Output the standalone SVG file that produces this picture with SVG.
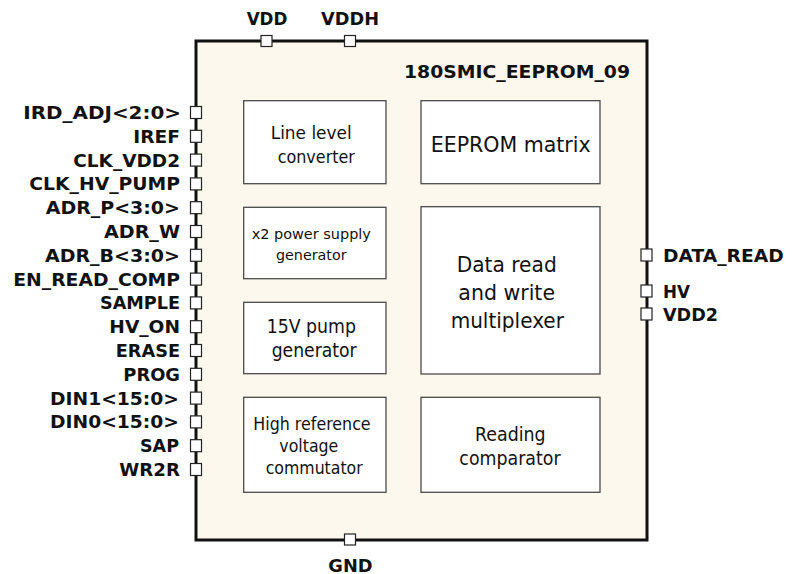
<svg xmlns="http://www.w3.org/2000/svg" width="800" height="574" viewBox="0 0 800 574">
<style>
.lbl{font-family:"DejaVu Sans","Verdana",sans-serif;font-weight:bold;font-size:18.5px;fill:#111}
.l{text-anchor:end}
.r{text-anchor:start}
.c{text-anchor:middle}
.blk{fill:#ffffff;stroke:#4a4a4a;stroke-width:1.3}
.txt{font-family:"DejaVu Sans","Verdana",sans-serif;fill:#111;text-anchor:middle}
.pin{fill:#ffffff;stroke:#222;stroke-width:1.2}
</style>
<rect width="800" height="574" fill="#ffffff"/>
<g id="chip">
<rect x="196" y="41" width="451" height="499" fill="#fcf8ee" stroke="#111" stroke-width="3"/>
<text class="lbl" x="630" y="77.5" text-anchor="end" textLength="226" lengthAdjust="spacingAndGlyphs">180SMIC_EEPROM_09</text>
</g>
<g id="line_level_converter">
<rect class="blk" x="243.7" y="100.7" width="142.3" height="83"/>
<text class="txt" font-size="18" x="311.2" y="139.3" textLength="81" lengthAdjust="spacingAndGlyphs">Line level</text>
<text class="txt" font-size="18" x="316.3" y="163.3" textLength="77.3" lengthAdjust="spacingAndGlyphs">converter</text>
</g>
<g id="x2_power_supply">
<rect class="blk" x="243.7" y="207.3" width="142.3" height="71.4"/>
<text class="txt" font-size="14.6" x="311.3" y="239.3" textLength="119.3" lengthAdjust="spacingAndGlyphs">x2 power supply</text>
<text class="txt" font-size="14.6" x="311.3" y="259.5" textLength="70.7" lengthAdjust="spacingAndGlyphs">generator</text>
</g>
<g id="pump_15v">
<rect class="blk" x="243.7" y="302.3" width="142.3" height="71.4"/>
<text class="txt" font-size="18.6" x="311.3" y="333.3" textLength="89.3" lengthAdjust="spacingAndGlyphs">15V pump</text>
<text class="txt" font-size="18.6" x="314.2" y="356.7" textLength="85" lengthAdjust="spacingAndGlyphs">generator</text>
</g>
<g id="hv_ref_commutator">
<rect class="blk" x="243.7" y="397.3" width="142.3" height="95"/>
<text class="txt" font-size="17" x="312" y="430" textLength="117.3" lengthAdjust="spacingAndGlyphs">High reference</text>
<text class="txt" font-size="17" x="308.8" y="452" textLength="59" lengthAdjust="spacingAndGlyphs">voltage</text>
<text class="txt" font-size="17" x="314.2" y="474" textLength="97" lengthAdjust="spacingAndGlyphs">commutator</text>
</g>
<g id="eeprom_matrix">
<rect class="blk" x="421" y="100.7" width="179" height="83"/>
<text class="txt" font-size="21" x="510.7" y="151.5" textLength="160" lengthAdjust="spacingAndGlyphs">EEPROM matrix</text>
</g>
<g id="data_mux">
<rect class="blk" x="421" y="206.7" width="179" height="167.3"/>
<text class="txt" font-size="21.5" x="506.7" y="271.7" textLength="100" lengthAdjust="spacingAndGlyphs">Data read</text>
<text class="txt" font-size="21.5" x="506.7" y="300" textLength="96.7" lengthAdjust="spacingAndGlyphs">and write</text>
<text class="txt" font-size="21.5" x="507.3" y="328.3" textLength="113.3" lengthAdjust="spacingAndGlyphs">multiplexer</text>
</g>
<g id="reading_comparator">
<rect class="blk" x="421" y="397.3" width="179" height="95"/>
<text class="txt" font-size="18.6" x="510.3" y="441" textLength="70.7" lengthAdjust="spacingAndGlyphs">Reading</text>
<text class="txt" font-size="18.6" x="510" y="465" textLength="101.3" lengthAdjust="spacingAndGlyphs">comparator</text>
</g>
<g id="pins">
<rect class="pin" x="261" y="35.5" width="11" height="11"/>
<rect class="pin" x="344.5" y="35.5" width="11" height="11"/>
<rect class="pin" x="344.5" y="534" width="11" height="11"/>
<rect class="pin" x="641" y="249" width="11" height="12"/>
<rect class="pin" x="641" y="285" width="11" height="12"/>
<rect class="pin" x="641" y="308" width="11" height="12"/>
<rect class="pin" x="190.5" y="106.5" width="11" height="12"/>
<rect class="pin" x="190.5" y="130.3" width="11" height="12"/>
<rect class="pin" x="190.5" y="154.1" width="11" height="12"/>
<rect class="pin" x="190.5" y="177.9" width="11" height="12"/>
<rect class="pin" x="190.5" y="201.7" width="11" height="12"/>
<rect class="pin" x="190.5" y="225.5" width="11" height="12"/>
<rect class="pin" x="190.5" y="249.3" width="11" height="12"/>
<rect class="pin" x="190.5" y="273.1" width="11" height="12"/>
<rect class="pin" x="190.5" y="296.9" width="11" height="12"/>
<rect class="pin" x="190.5" y="320.7" width="11" height="12"/>
<rect class="pin" x="190.5" y="344.5" width="11" height="12"/>
<rect class="pin" x="190.5" y="368.3" width="11" height="12"/>
<rect class="pin" x="190.5" y="392.1" width="11" height="12"/>
<rect class="pin" x="190.5" y="415.9" width="11" height="12"/>
<rect class="pin" x="190.5" y="439.7" width="11" height="12"/>
<rect class="pin" x="190.5" y="463.5" width="11" height="12"/>
</g>
<g id="pin_labels">
<text class="lbl c" x="267" y="25" textLength="40.7" lengthAdjust="spacingAndGlyphs">VDD</text>
<text class="lbl c" x="350" y="25" textLength="58" lengthAdjust="spacingAndGlyphs">VDDH</text>
<text class="lbl c" x="350.5" y="571.5" textLength="44.3" lengthAdjust="spacingAndGlyphs">GND</text>
<text class="lbl r" x="663" y="261.5" textLength="120.7" lengthAdjust="spacingAndGlyphs">DATA_READ</text>
<text class="lbl r" x="663" y="297.5" textLength="27" lengthAdjust="spacingAndGlyphs">HV</text>
<text class="lbl r" x="663" y="320.5" textLength="55" lengthAdjust="spacingAndGlyphs">VDD2</text>
<text class="lbl l" x="181" y="119" textLength="157.7" lengthAdjust="spacingAndGlyphs">IRD_ADJ&lt;2:0&gt;</text>
<text class="lbl l" x="180" y="142.8" textLength="46.7" lengthAdjust="spacingAndGlyphs">IREF</text>
<text class="lbl l" x="180" y="166.6" textLength="106.7" lengthAdjust="spacingAndGlyphs">CLK_VDD2</text>
<text class="lbl l" x="180" y="190.4" textLength="150.7" lengthAdjust="spacingAndGlyphs">CLK_HV_PUMP</text>
<text class="lbl l" x="180" y="214.2" textLength="134.3" lengthAdjust="spacingAndGlyphs">ADR_P&lt;3:0&gt;</text>
<text class="lbl l" x="180" y="238" textLength="76" lengthAdjust="spacingAndGlyphs">ADR_W</text>
<text class="lbl l" x="180" y="261.8" textLength="135" lengthAdjust="spacingAndGlyphs">ADR_B&lt;3:0&gt;</text>
<text class="lbl l" x="180" y="285.6" textLength="166.7" lengthAdjust="spacingAndGlyphs">EN_READ_COMP</text>
<text class="lbl l" x="180" y="309.4" textLength="80" lengthAdjust="spacingAndGlyphs">SAMPLE</text>
<text class="lbl l" x="180" y="333.2" textLength="70.7" lengthAdjust="spacingAndGlyphs">HV_ON</text>
<text class="lbl l" x="180" y="357" textLength="64.3" lengthAdjust="spacingAndGlyphs">ERASE</text>
<text class="lbl l" x="180" y="380.8" textLength="56.7" lengthAdjust="spacingAndGlyphs">PROG</text>
<text class="lbl l" x="179" y="404.6" textLength="129" lengthAdjust="spacingAndGlyphs">DIN1&lt;15:0&gt;</text>
<text class="lbl l" x="179" y="428.4" textLength="129" lengthAdjust="spacingAndGlyphs">DIN0&lt;15:0&gt;</text>
<text class="lbl l" x="179" y="452.2" textLength="39" lengthAdjust="spacingAndGlyphs">SAP</text>
<text class="lbl l" x="180" y="476" textLength="60.7" lengthAdjust="spacingAndGlyphs">WR2R</text>
</g>
</svg>
